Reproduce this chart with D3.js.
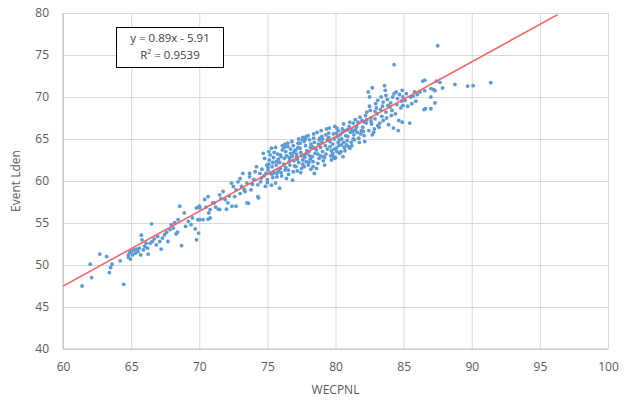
<!DOCTYPE html>
<html>
<head>
<meta charset="utf-8">
<script src="https://cdn.jsdelivr.net/npm/d3@7"></script>
<style>
  body { margin: 0; background: #fff; }
  svg { display: block; font-family: "Open Sans", "Noto Sans", sans-serif; }
</style>
</head>
<body>
<div class="scatter"></div>
<script>
// tick values
var xTicks = [60, 65, 70, 75, 80, 85, 90, 95, 100];
var yTicks = [40, 45, 50, 55, 60, 65, 70, 75, 80];

// trendline y = 0.89x - 5.91, drawn over this x range
var trendSlope = 0.89;
var trendIntercept = -5.91;
var trendRange = [60, 96.3];
var equationLines = ["y = 0.89x - 5.91", "R\u00b2 = 0.9539"];

// [WECPNL, Event Lden], grouped by x band
var band60 = [
  [61.4,47.5],[62.1,48.5],[62.0,50.1],[62.7,51.3],[63.2,51.0],[63.4,49.1],[63.5,49.7],[63.6,50.1],
  [64.2,50.5],[64.45,47.7],[64.8,51.2],[64.8,50.9],[64.9,51.5],[64.95,50.7]
];
var band65 = [
  [65.0,51.6],[65.1,51.2],[65.2,51.8],[65.3,51.4],[65.4,51.9],[65.5,51.6],[65.6,52.0],[65.7,51.2],
  [65.75,53.55],[65.8,53.0],[65.9,51.8],[66.0,52.2],[66.1,52.6],[66.2,52.0],[66.25,51.3],[66.4,52.6],
  [66.5,54.9],[66.55,52.8],[66.7,53.1],[66.85,52.4],[66.95,53.4],[67.1,52.8],[67.2,51.9],[67.3,53.2],
  [67.45,53.6],[67.6,53.9],[67.7,52.8],[67.85,54.2],[67.95,54.8],[68.1,54.4],[68.2,55.05],[68.3,53.7],
  [68.4,53.9],[68.45,55.4],[68.57,57.0],[68.7,52.3],[68.9,56.2],[69.0,54.6],[69.2,55.2],[69.4,54.8],
  [69.5,55.6],[69.7,54.3],[69.8,53.0],[69.8,56.8],[69.9,55.4],[69.95,53.8]
];
var band70 = [
  [70.0,57.0],[70.05,56.8],[70.05,55.4],[70.28,55.4],[70.4,57.8],[70.5,56.9],[70.65,58.15],[70.65,55.45],
  [70.7,56.2],[70.8,55.6],[70.8,56.6],[71.0,57.4],[71.1,57.4],[71.2,56.9],[71.4,56.65],[71.5,58.35],
  [71.5,56.6],[71.6,57.9],[71.75,58.75],[71.9,57.8],[72.0,56.65],[72.1,57.4],[72.2,58.2],[72.36,59.75],
  [72.4,57.0],[72.5,59.35],[72.6,58.15],[72.7,58.95],[72.7,57.0],[72.85,59.9],[73.0,60.3],[73.0,58.5],
  [73.1,59.35],[73.2,60.9],[73.3,59.0],[73.36,58.75],[73.5,59.75],[73.5,57.4],[73.6,57.35],[73.7,60.5],
  [73.7,60.9],[73.8,58.95],[73.9,59.6],[74.0,60.2],[74.1,61.1],[74.2,61.7],[74.3,59.55],[74.3,58.15],
  [74.35,58.0],[74.45,60.9],[74.5,59.9],[74.56,60.35],[74.6,61.4],[74.7,63.3],[74.75,60.6],[74.8,62.7],
  [74.85,59.35],[74.95,61.9],[74.9,60.9]
];
var band75 = [
  [75.0,60.15],[75.05,61.3],[75.1,63.5],[75.15,62.5],[75.0,59.8],[75.2,60.9],[75.1,62.0],[75.2,63.1],[75.05,61.6],
  [75.3,63.9],[75.35,61.7],[75.4,60.4],[75.45,62.8],[75.3,59.5],[75.5,61.0],[75.4,62.2],[75.5,63.4],[75.35,60.8],
  [75.6,59.75],[75.7,60.5],[75.65,61.9],[75.8,62.6],[75.75,63.2],[75.6,64.0],[75.8,61.2],[75.7,60.9],[75.65,62.3],
  [75.9,59.15],[76.0,62.9],[75.95,61.5],[76.1,63.7],[76.05,60.6],[75.9,62.2],[76.1,64.2],[76.0,61.0],[75.95,63.1],
  [76.2,61.9],[76.3,61.3],[76.35,63.5],[76.25,62.7],[76.4,60.3],[76.3,64.4],[76.2,62.0],[76.4,63.0],[76.35,61.6],[76.25,64.0],
  [76.5,64.1],[76.6,62.3],[76.55,60.8],[76.7,63.3],[76.65,61.9],[76.5,64.5],[76.6,62.8],[76.7,63.8],[76.55,61.3],[76.65,62.5],
  [76.9,61.1],[76.85,60.1],[77.0,63.6],[76.8,64.7],[76.95,62.4],[76.85,63.0],[77.0,61.8],[76.9,64.2],[76.8,62.9],[76.95,63.4],
  [77.1,61.7],[77.2,62.6],[77.25,64.0],[77.15,63.2],[77.3,65.0],[77.2,61.2],[77.3,62.2],[77.1,63.7],[77.25,64.5],[77.15,62.9],
  [77.4,64.5],[77.6,62.5],[77.5,61.5],[77.45,63.4],[77.55,64.9],[77.6,62.0],[77.4,63.9],[77.5,63.0],[77.6,65.2],[77.45,61.0],
  [77.9,63.3],[77.85,65.3],[77.7,61.7],[77.75,62.8],[77.8,64.2],[77.9,63.6],[77.7,64.7],[77.85,62.3],[77.75,63.1],[77.8,65.0],
  [78.0,61.9],[78.1,64.9],[78.05,63.5],[78.15,62.6],[78.2,64.4],[78.0,65.4],[78.1,63.0],[78.2,61.4],[78.15,64.0],[78.05,62.2],
  [78.35,61.7],[78.5,63.9],[78.4,65.1],[78.3,62.9],[78.45,64.6],[78.5,63.3],[78.35,62.3],[78.4,65.6],[78.3,64.1],[78.45,60.9],
  [78.7,62.1],[78.85,65.1],[78.6,63.7],[78.75,64.4],[78.8,62.7],[78.65,65.8],[78.7,63.2],[78.8,64.9],[78.6,61.5],
  [79.1,62.9],[78.9,64.0],[79.0,65.3],[79.05,63.5],[78.95,66.0],[79.1,62.4],[79.0,64.6],[78.9,63.0],[79.05,65.0],
  [79.2,61.9],[79.3,65.5],[79.25,64.2],[79.4,63.8],[79.35,66.2],[79.2,62.8],[79.4,64.9],[79.3,63.2],
  [79.6,64.1],[79.5,65.2],[79.65,63.0],[79.55,66.3],[79.7,62.5],[79.6,64.7],[79.5,65.7],[79.7,63.6],
  [79.8,63.3],[79.9,65.0],[79.85,62.9],[79.95,66.5],[79.8,64.4],[79.9,63.8],[79.85,65.6],[79.95,62.7]
];
var band80 = [
  [80.07,65.7],[80.3,64.9],[80.1,63.5],[80.2,66.0],[80.0,62.8],[80.25,64.2],[80.15,65.3],[80.05,63.9],
  [80.35,65.5],[80.2,64.6],[80.1,66.3],[80.3,63.3],
  [80.4,63.5],[80.7,63.6],[80.6,64.6],[80.5,66.2],[80.45,65.0],[80.55,62.9],[80.65,64.0],[80.5,65.8],[80.6,66.8],
  [80.75,65.4],[80.45,64.3],[80.7,66.0],
  [80.8,64.3],[80.9,65.3],[81.05,63.9],[81.0,66.5],[80.85,64.8],[81.1,65.8],[80.95,64.1],[81.05,67.0],
  [80.9,66.1],[81.15,64.6],
  [81.2,66.1],[81.3,66.9],[81.2,64.2],[81.35,65.5],[81.45,67.3],[81.4,64.9],[81.5,66.3],[81.3,65.0],
  [81.25,65.9],[81.45,66.0],
  [81.55,66.5],[81.7,65.1],[81.8,67.6],[81.75,64.6],[81.9,66.0],[81.65,67.0],[81.85,65.6],[81.6,65.8],[81.95,67.2],
  [82.15,64.7],[82.0,66.4],[82.2,67.8],[82.1,65.4],[82.3,68.2],[82.25,66.9],[82.05,65.9],[82.3,67.3],[82.15,67.0],
  [82.4,70.6],[82.5,70.0],[82.7,71.1],[82.45,66.0],[82.6,67.5],[82.55,68.4],[82.7,65.5],[82.65,66.8],[82.5,68.9],[82.6,67.1],
  [82.8,65.8],[82.9,67.4],[83.0,68.7],[83.1,66.6],[82.95,69.2],[83.05,68.0],[82.85,66.2],[83.1,69.6],[82.9,68.3],
  [83.2,66.4],[83.3,68.5],[83.4,67.7],[83.5,69.4],[83.25,66.9],[83.45,68.9],[83.35,70.0],[83.5,67.2],
  [83.6,71.35],[83.65,70.8],[83.7,68.2],[83.8,69.7],[83.75,67.5],[83.9,66.7],[83.85,69.0],[83.7,70.2],
  [84.3,73.85],[84.0,68.8],[84.1,67.8],[84.2,70.0],[84.05,69.3],[84.25,66.3],[84.15,68.4],[84.3,70.4],
  [84.6,66.0],[84.7,70.3],[84.5,69.1],[84.4,68.0],[84.55,69.8],[84.65,67.2],[84.45,70.6],
  [84.9,67.0],[84.85,69.5],[84.95,70.0],[84.8,68.7],[84.9,70.8],[84.95,69.0]
];
var band85 = [
  [85.1,69.6],[85.2,70.4],[85.3,68.9],[85.45,66.9],[85.5,70.0],[85.6,69.2],[85.7,70.1],[85.8,70.6],
  [85.9,69.5],[86.0,70.3],[86.2,70.6],[86.4,71.9],[86.5,68.5],[86.55,72.0],[86.55,70.75],[86.6,68.6],
  [87.0,71.0],[87.0,70.0],[87.0,68.6],[87.2,70.9],[87.3,70.75],[87.3,69.3],[87.4,71.9],[87.5,76.1],
  [87.66,71.74],[87.86,71.07],[88.76,71.5],[89.7,71.3],[90.1,71.35],[91.4,71.7]
];
var points = band60.concat(band65, band70, band75, band80, band85);

var width = 629, height = 402;
var margin = { left: 63, right: 21, top: 13, bottom: 53 };

var svg = d3.select(".scatter").append("svg")
    .attr("width", width)
    .attr("height", height);

var x = d3.scaleLinear().domain([60, 100]).range([margin.left, width - margin.right]);
var y = d3.scaleLinear().domain([40, 80]).range([height - margin.bottom, margin.top]);

/*
    Grid
*/
svg.append("g")
    .attr("transform", "translate(0," + y(40) + ")")
    .call(d3.axisBottom(x).tickValues(xTicks).tickSize(-(y(40) - y(80))).tickFormat(""))
    .call(function (g) {
        g.select(".domain").remove();
        g.selectAll("line").attr("stroke", "#d9d9d9");
    });
svg.append("g")
    .attr("transform", "translate(" + x(60) + ",0)")
    .call(d3.axisLeft(y).tickValues(yTicks).tickSize(-(x(100) - x(60))).tickFormat(""))
    .call(function (g) {
        g.select(".domain").remove();
        g.selectAll("line").attr("stroke", "#d9d9d9");
    });

// axis lines
svg.append("line")
    .attr("x1", x(60)).attr("x2", x(100))
    .attr("y1", y(40)).attr("y2", y(40))
    .attr("stroke", "#bfbfbf");
svg.append("line")
    .attr("x1", x(60)).attr("x2", x(60))
    .attr("y1", y(40)).attr("y2", y(80))
    .attr("stroke", "#bfbfbf");

/*
    Tick labels
*/
svg.append("g")
    .attr("transform", "translate(0," + y(40) + ")")
    .call(d3.axisBottom(x).tickValues(xTicks).tickSize(0).tickPadding(13))
    .call(function (g) {
        g.select(".domain").remove();
        g.selectAll("text").attr("fill", "#595959").attr("font-size", 12)
            .attr("font-family", "\"Open Sans\", sans-serif");
    });
svg.append("g")
    .attr("transform", "translate(" + x(60) + ",0)")
    .call(d3.axisLeft(y).tickValues(yTicks).tickSize(0).tickPadding(14))
    .call(function (g) {
        g.select(".domain").remove();
        g.selectAll("text").attr("fill", "#595959").attr("font-size", 12)
            .attr("font-family", "\"Open Sans\", sans-serif");
    });

/*
    Points
*/
svg.append("g").selectAll("circle")
    .data(points)
    .enter().append("circle")
    .attr("cx", function (d) { return x(d[0]); })
    .attr("cy", function (d) { return y(d[1]); })
    .attr("r", 1.9)
    .attr("fill", "#5b9bd5");

/*
    Trendline
*/
svg.append("line")
    .attr("x1", x(trendRange[0]))
    .attr("y1", y(trendSlope * trendRange[0] + trendIntercept))
    .attr("x2", x(trendRange[1]))
    .attr("y2", y(trendSlope * trendRange[1] + trendIntercept))
    .attr("stroke", "#ff5b5b")
    .attr("stroke-width", 1.5);

/*
    Equation box
*/
var box = svg.append("g");
box.append("rect")
    .attr("x", 116.5).attr("y", 27.5)
    .attr("width", 107).attr("height", 40)
    .attr("fill", "#fff")
    .attr("stroke", "#000")
    .attr("stroke-width", 1);
box.selectAll("text")
    .data(equationLines)
    .enter().append("text")
    .attr("x", 170)
    .attr("y", function (d, i) { return 42 + i * 17; })
    .attr("text-anchor", "middle")
    .attr("font-size", 11.5)
    .attr("fill", "#404040")
    .text(function (d) { return d; });

/*
    Axis titles
*/
svg.append("text")
    .attr("x", (x(60) + x(100)) / 2)
    .attr("y", 394)
    .attr("text-anchor", "middle")
    .attr("font-size", 12)
    .attr("fill", "#595959")
    .text("WECPNL");
svg.append("text")
    .attr("transform", "translate(20," + (y(40) + y(80)) / 2 + ") rotate(-90)")
    .attr("text-anchor", "middle")
    .attr("font-size", 12)
    .attr("fill", "#595959")
    .text("Event Lden");
</script>
</body>
</html>
